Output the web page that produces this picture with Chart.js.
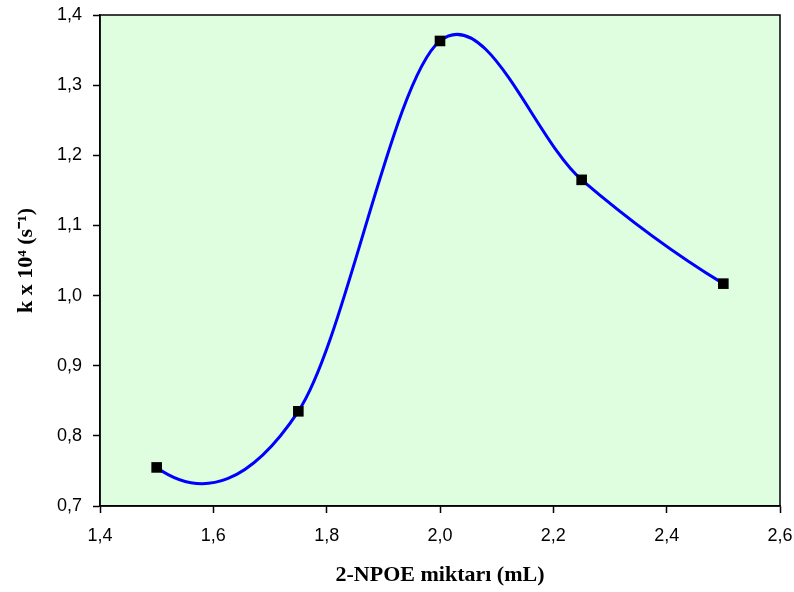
<!DOCTYPE html>
<html>
<head>
<meta charset="utf-8">
<script src="https://cdn.jsdelivr.net/npm/chart.js@4/dist/chart.umd.min.js"></script>
<style>
  html, body { margin: 0; padding: 0; background: #fff; }
  #wrap { width: 794px; height: 592px; }
</style>
</head>
<body>
<div id="wrap"><canvas id="rateChart" width="794" height="592"></canvas></div>
<script>
const npoeAmount = [1.5, 1.75, 2.0, 2.25, 2.5];
const rateConst = [0.755, 0.835, 1.363, 1.165, 1.017];
const xTicks = [1.4, 1.6, 1.8, 2.0, 2.2, 2.4, 2.6];
const yTicks = [0.7, 0.8, 0.9, 1.0, 1.1, 1.2, 1.3, 1.4];

const fmt = (v) => v.toFixed(1).replace(".", ",");

// plot area fill + frame
const plotBox = {
  id: "plotBox",
  beforeDraw: (chart) => {
    const a = chart.chartArea;
    const ctx = chart.ctx;
    ctx.save();
    ctx.fillStyle = "#dffddf";
    ctx.fillRect(a.left, a.top, a.right - a.left, a.bottom - a.top);
    ctx.restore();
  },
  afterDatasetsDraw: (chart) => {
    const a = chart.chartArea;
    const ctx = chart.ctx;
    ctx.save();
    ctx.strokeStyle = "#000";
    ctx.lineWidth = 1.5;
    ctx.strokeRect(a.left, a.top, a.right - a.left, a.bottom - a.top);
    ctx.restore();
  },
};

// spreadsheet-style smoothing: catmull-rom tangents, natural ends
const smoothLine = {
  id: "smoothLine",
  beforeDatasetsDraw: (chart) => {
    const meta = chart.getDatasetMeta(0);
    const line = meta.dataset;
    const pts = meta.data;
    const xs = chart.scales.x;
    const ys = chart.scales.y;
    const n = npoeAmount.length;
    const tx = [];
    const ty = [];
    for (let i = 1; i < n - 1; i++) {
      tx[i] = (npoeAmount[i + 1] - npoeAmount[i - 1]) / 2;
      ty[i] = (rateConst[i + 1] - rateConst[i - 1]) / 2;
    }
    tx[0] = 2 * (npoeAmount[1] - npoeAmount[0]) - tx[1];
    ty[0] = 2 * (rateConst[1] - rateConst[0]) - ty[1];
    tx[n - 1] = 2 * (npoeAmount[n - 1] - npoeAmount[n - 2]) - tx[n - 2];
    ty[n - 1] = 2 * (rateConst[n - 1] - rateConst[n - 2]) - ty[n - 2];
    line.updateControlPoints(chart.chartArea, "x");
    pts.forEach((p, i) => {
      p.cp1x = xs.getPixelForValue(npoeAmount[i] - tx[i] / 3);
      p.cp1y = ys.getPixelForValue(rateConst[i] - ty[i] / 3);
      p.cp2x = xs.getPixelForValue(npoeAmount[i] + tx[i] / 3);
      p.cp2y = ys.getPixelForValue(rateConst[i] + ty[i] / 3);
    });
    line._path = undefined;
  },
};

const noPad = (axis) => {
  axis.paddingTop = 0;
  axis.paddingBottom = 0;
  axis.paddingLeft = 0;
  axis.paddingRight = 0;
};

const ctx = document.getElementById("rateChart").getContext("2d");
const rateChart = new Chart(ctx, {
  type: "line",
  data: {
    datasets: [
      {
        data: npoeAmount.map((x, i) => ({ x: x, y: rateConst[i] })),
        borderColor: "#0000ff",
        borderWidth: 3,
        tension: 0.5,
        pointStyle: "rect",
        pointRadius: 7.5,
        pointBackgroundColor: "#000",
        pointBorderColor: "#000",
        pointBorderWidth: 0,
        fill: false,
        clip: false,
      },
    ],
  },
  plugins: [plotBox, smoothLine],
  options: {
    responsive: false,
    animation: false,
    layout: { padding: { top: 15, right: 14, left: 0, bottom: 0 } },
    plugins: {
      legend: { display: false },
      tooltip: { enabled: false },
    },
    scales: {
      x: {
        type: "linear",
        min: 1.4,
        max: 2.6,
        afterBuildTicks: (axis) => {
          axis.ticks = xTicks.map((v) => ({ value: v }));
        },
        afterFit: (axis) => {
          axis.height = 86;
          noPad(axis);
        },
        grid: {
          drawOnChartArea: false,
          color: "#000",
          tickLength: 7,
          tickWidth: 1.5,
        },
        border: { color: "#000", width: 1.5 },
        ticks: {
          color: "#000",
          font: { family: "Liberation Sans, Arial", size: 18 },
          padding: 12,
          maxRotation: 0,
          callback: (v) => fmt(v),
        },
        title: {
          display: true,
          text: "2-NPOE miktarı (mL)",
          color: "#000",
          font: { family: "Liberation Serif, Times New Roman", size: 22, weight: "bold" },
          padding: { top: 0, bottom: 3 },
        },
      },
      y: {
        type: "linear",
        min: 0.7,
        max: 1.4,
        afterBuildTicks: (axis) => {
          axis.ticks = yTicks.map((v) => ({ value: v }));
        },
        afterFit: (axis) => {
          axis.width = 100;
          noPad(axis);
        },
        grid: {
          drawOnChartArea: false,
          color: "#000",
          tickLength: 7,
          tickWidth: 1.5,
        },
        border: { color: "#000", width: 1.5 },
        ticks: {
          color: "#000",
          font: { family: "Liberation Sans, Arial", size: 18 },
          padding: 11,
          callback: (v) => fmt(v),
        },
        title: {
          display: true,
          text: "k x 10\u2074 (s\u207B\u00B9)",
          color: "#000",
          font: { family: "Liberation Serif, Times New Roman", size: 22, weight: "bold" },
          padding: { top: 13, bottom: 0 },
        },
      },
    },
  },
});
</script>
</body>
</html>
